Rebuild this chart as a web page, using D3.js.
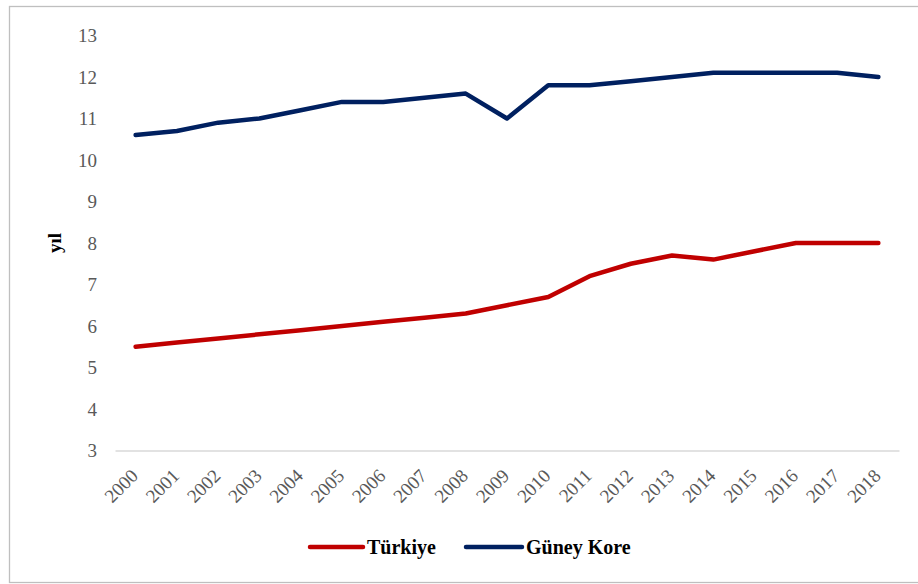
<!DOCTYPE html>
<html><head><meta charset="utf-8">
<script src="https://cdn.jsdelivr.net/npm/d3@7"></script>
<style>body{margin:0;background:#fff}svg{display:block}</style>
</head><body>
<svg id="c" width="918" height="584"></svg>
<script>
const years = ["2000","2001","2002","2003","2004","2005","2006","2007","2008","2009","2010","2011","2012","2013","2014","2015","2016","2017","2018"];
const turkiye = [5.5,5.6,5.7,5.8,5.9,6.0,6.1,6.2,6.3,6.5,6.7,7.2,7.5,7.7,7.6,7.8,8.0,8.0,8.0];
const guneyKore = [10.6,10.7,10.9,11.0,11.2,11.4,11.4,11.5,11.6,11.0,11.8,11.8,11.9,12.0,12.1,12.1,12.1,12.1,12.0];
const yTicks = [3,4,5,6,7,8,9,10,11,12,13];
const seriesNames = ["Türkiye","Güney Kore"];
const seriesColors = ["#C00000","#002060"];
const yLabel = "yıl";

const FONT = '"Liberation Serif"';
const svg = d3.select("#c");
svg.append("rect").attr("x",9.5).attr("y",6.5).attr("width",930).attr("height",576)
  .attr("fill","#fff").attr("stroke","#bfbfbf").attr("stroke-width",1.3);

const x = d3.scaleBand().domain(years).range([115,899]);
const y = d3.scaleLinear().domain([3,13]).range([450.5,35.5]);

// y axis labels
const yAx = svg.append("g").attr("transform","translate(97,0)")
  .call(d3.axisLeft(y).tickValues(yTicks).tickSize(0).tickPadding(0));
yAx.attr("font-family",null);
yAx.select(".domain").remove();
yAx.selectAll("text").style("font-family",FONT)
  .attr("font-size",19).attr("fill","#595959");

// x axis
const xAx = svg.append("g").attr("transform","translate(0,450.5)")
  .call(d3.axisBottom(x).tickSize(0).tickPadding(0));
xAx.attr("font-family",null);
xAx.select(".domain").attr("stroke","#d9d9d9").attr("stroke-width",1.3);
xAx.selectAll("text").style("font-family",FONT)
  .attr("font-size",19).attr("fill","#595959")
  .attr("text-anchor","end").attr("dy",0).attr("y",0)
  .attr("transform","translate(3.5,26.5) rotate(-45)");

svg.append("text").attr("transform","translate(61,243) rotate(-90)")
  .attr("text-anchor","middle").style("font-family",FONT)
  .attr("font-weight","bold").attr("font-size",19).attr("fill","#000").text(yLabel);

const line = d3.line().x((d,i)=>x(years[i])+x.bandwidth()/2).y(d=>y(d));
[turkiye,guneyKore].forEach((s,k)=>{
  svg.append("path").attr("d",line(s)).attr("fill","none")
    .attr("stroke",seriesColors[k]).attr("stroke-width",4.5)
    .attr("stroke-linejoin","round").attr("stroke-linecap","round");
});

// legend
const lg = [{x0:310,x1:363,tx:367},{x0:466,x1:522,tx:526}];
seriesNames.forEach((n,k)=>{
  svg.append("line").attr("x1",lg[k].x0).attr("x2",lg[k].x1).attr("y1",547).attr("y2",547)
    .attr("stroke",seriesColors[k]).attr("stroke-width",4.5).attr("stroke-linecap","round");
  svg.append("text").attr("x",lg[k].tx).attr("y",554).style("font-family",FONT)
    .attr("font-weight","bold").attr("font-size",20).attr("fill","#000").text(n);
});
</script>
</body></html>
